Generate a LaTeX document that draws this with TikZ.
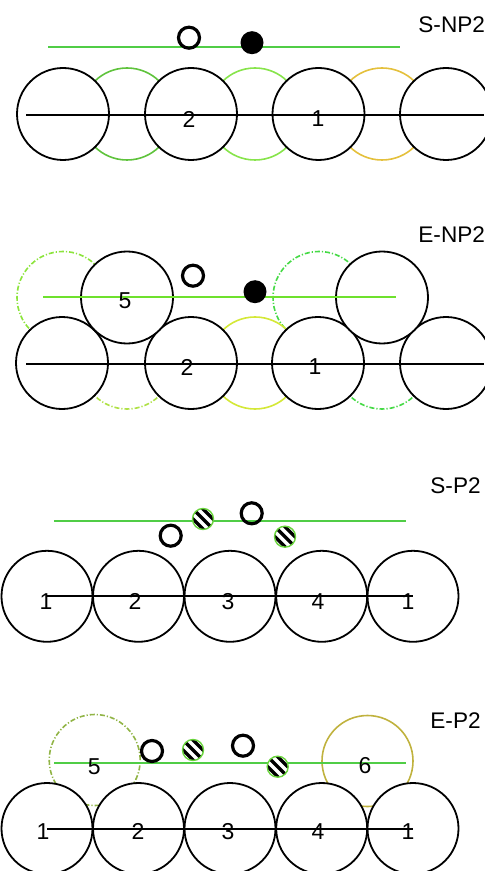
\documentclass[tikz,border=0pt]{standalone}
\usepackage{fontspec}
\setmainfont{Liberation Sans}
\definecolor{gA}{RGB}{95,195,60}
\definecolor{gB}{RGB}{135,228,75}
\definecolor{goldA}{RGB}{228,192,60}
\definecolor{gline}{RGB}{80,205,70}
\definecolor{glineB}{RGB}{110,225,45}
\definecolor{yg}{RGB}{212,232,55}
\definecolor{gDD}{RGB}{140,228,60}
\definecolor{gDDb}{RGB}{70,218,70}
\definecolor{ygDD}{RGB}{175,225,70}
\definecolor{oliveDD}{RGB}{145,180,70}
\definecolor{goldB}{RGB}{192,178,62}
\definecolor{hgreen}{RGB}{105,212,60}
\tikzset{
  big/.style={circle, draw=black, fill=white, line width=0.9pt, minimum size=46pt, inner sep=0pt},
  bigs/.style={big, minimum size=45.5pt},
  ghost/.style={circle, line width=0.8pt, minimum size=46pt, inner sep=0pt},
  dd/.style={dash pattern=on 2.5pt off 1pt on 0.6pt off 1pt},
  blk/.style={draw=black, line width=1pt},
  gl/.style={line width=0.85pt},
  opn/.style={circle, draw=black, line width=1.6pt, minimum size=10.5pt, inner sep=0pt},
  fil/.style={circle, fill=black, minimum size=11.5pt, inner sep=0pt},
  hatch/.style={circle, draw=hgreen, line width=0.7pt, fill=white, minimum size=10.5pt, inner sep=0pt,
    path picture={\foreach \a/\b in {-5/5,0/0,5/-5}{\draw[black, line width=1.7pt, shift={(path picture bounding box.center)}] (\a-14,\b-14) -- (\a+14,\b+14);}}},
  num/.style={font=\fontsize{11.5}{13}\selectfont, inner sep=0pt},
  ttl/.style={font=\fontsize{11.3}{13}\selectfont, anchor=west, inner sep=0pt}
}
\begin{document}
\begin{tikzpicture}[x=0.5pt,y=-0.5pt]
\useasboundingbox (0,0) rectangle (484,871);
% ---------- Panel 1: S-NP2
\node[ghost, draw=gA] (p1g1) at (127,114) {};
\node[ghost, draw=gB] (p1g2) at (255,114) {};
\node[ghost, draw=goldA] (p1g3) at (382,114) {};
\node[big] (p1c1) at (63,114) {};
\node[big] (p1c2) at (191,114) {};
\node[big] (p1c3) at (318.5,114) {};
\node[big] (p1c4) at (446,114) {};
\coordinate (p1la) at (26,115.5);
\coordinate (p1lb) at (484,115.5);
\draw[blk] (p1la) -- (p1lb);
\coordinate (p1ga) at (48,47);
\coordinate (p1gb) at (400,47);
\draw[gl, draw=gline] (p1ga) -- (p1gb);
\node[opn] (p1o) at (189,37.7) {};
\node[fil] (p1f) at (252,42.7) {};
\node[num] (p1n2) at (189,119) {2};
\node[num] (p1n1) at (318,119) {1};
\node[ttl] (p1t) at (418,25) {S-NP2};
% ---------- Panel 2: E-NP2
\node[ghost, draw=gDD, dd] (p2g1) at (63,297.5) {};
\node[ghost, draw=gDDb, dd] (p2g2) at (319,297.5) {};
\node[ghost, draw=ygDD, dd] (p2g3) at (127,363) {};
\node[ghost, draw=yg] (p2g4) at (255,363) {};
\node[ghost, draw=gDDb, dd] (p2g5) at (382,363) {};
\node[big] (p2c1) at (62,363) {};
\node[big] (p2c2) at (191,363) {};
\node[big] (p2c3) at (318,363) {};
\node[big] (p2c4) at (446,363) {};
\node[big] (p2c5) at (127,297.5) {};
\node[big] (p2c6) at (382,297.5) {};
\coordinate (p2la) at (26,363.5);
\coordinate (p2lb) at (484,363.5);
\draw[blk] (p2la) -- (p2lb);
\coordinate (p2ga) at (43,297);
\coordinate (p2gb) at (396,297);
\draw[gl, draw=glineB] (p2ga) -- (p2gb);
\node[opn] (p2o) at (193,275.7) {};
\node[fil] (p2f) at (255,291.7) {};
\node[num] (p2n5) at (125,300.7) {5};
\node[num] (p2n2) at (187,367) {2};
\node[num] (p2n1) at (315,367) {1};
\node[ttl] (p2t) at (418,235) {E-NP2};
% ---------- Panel 3: S-P2
\node[bigs] (p3c1) at (47,596.3) {};
\node[bigs] (p3c2) at (138.5,596.3) {};
\node[bigs] (p3c3) at (230,596.3) {};
\node[bigs] (p3c4) at (321.7,596.3) {};
\node[bigs] (p3c5) at (413,596.3) {};
\draw[blk] (p3c1.center) -- (p3c5.center);
\coordinate (p3ga) at (54,521);
\coordinate (p3gb) at (406,521);
\draw[gl, draw=gline] (p3ga) -- (p3gb);
\node[opn] (p3o1) at (170.7,535.7) {};
\node[opn] (p3o2) at (251.7,513.3) {};
\node[hatch] (p3h1) at (203,519) {};
\node[hatch] (p3h2) at (285,536.7) {};
\node[num] (p3n1) at (46,601.7) {1};
\node[num] (p3n2) at (135,601.7) {2};
\node[num] (p3n3) at (228,601.7) {3};
\node[num] (p3n4) at (318,601.7) {4};
\node[num] (p3n5) at (408,601.7) {1};
\node[ttl] (p3t) at (430,486) {S-P2};
% ---------- Panel 4: E-P2
\node[ghost, draw=oliveDD, dd, minimum size=45.5pt] (p4g1) at (94.7,760) {};
\node[ghost, draw=goldB, minimum size=45.5pt] (p4g2) at (367.5,761) {};
\node[bigs] (p4c1) at (47,828.5) {};
\node[bigs] (p4c2) at (138.5,828.5) {};
\node[bigs] (p4c3) at (230,828.5) {};
\node[bigs] (p4c4) at (321.7,828.5) {};
\node[bigs] (p4c5) at (413,828.5) {};
\draw[blk] (p4c1.center) -- (p4c5.center);
\coordinate (p4ga) at (54,763);
\coordinate (p4gb) at (406,763);
\draw[gl, draw=gline] (p4ga) -- (p4gb);
\node[opn] (p4o1) at (152,751) {};
\node[opn] (p4o2) at (243,745.7) {};
\node[hatch] (p4h1) at (193,750) {};
\node[hatch] (p4h2) at (277.7,766.7) {};
\node[num] (p4n5) at (94.3,766.7) {5};
\node[num] (p4n6) at (365,766) {6};
\node[num] (p4n1) at (43,831.7) {1};
\node[num] (p4n2) at (138,831.7) {2};
\node[num] (p4n3) at (228,831.7) {3};
\node[num] (p4n4) at (318,831.7) {4};
\node[num] (p4n7) at (408,831.7) {1};
\node[ttl] (p4t) at (430,721) {E-P2};
\end{tikzpicture}
\end{document}
